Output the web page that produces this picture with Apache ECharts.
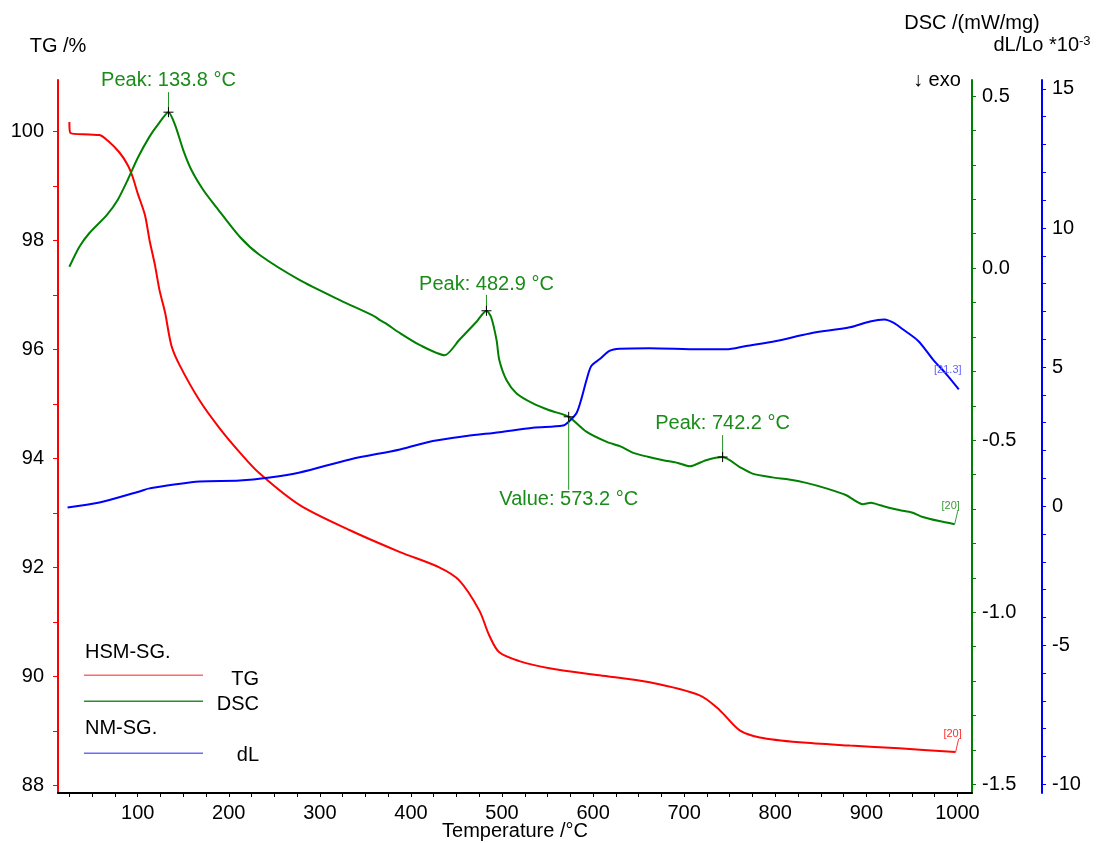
<!DOCTYPE html>
<html>
<head>
<meta charset="utf-8">
<script src="https://cdn.jsdelivr.net/npm/echarts@6/dist/echarts.min.js"></script>
<style>html,body{margin:0;padding:0;background:#fff;}#c{width:1098px;height:843px;}</style>
</head>
<body>
<div id="c"></div>
<script>
// ---------- data ----------
const tgT = [25, 26, 47, 58, 67, 80, 89, 94.5, 100, 108, 113, 119, 124, 130, 137, 146, 168, 190, 212, 234, 278, 333, 388, 431, 453, 475, 486, 497, 519, 552, 607, 662, 717, 739, 761, 783, 827, 882, 936, 998];
const tgV = [100.17, 99.97, 99.94, 99.93, 99.83, 99.61, 99.38, 99.16, 98.86, 98.46, 98.0, 97.54, 97.08, 96.68, 96.07, 95.71, 95.06, 94.55, 94.11, 93.72, 93.14, 92.68, 92.28, 92.0, 91.76, 91.21, 90.75, 90.44, 90.28, 90.15, 90.02, 89.89, 89.65, 89.38, 89.01, 88.88, 88.79, 88.73, 88.68, 88.61];

const dscT = [25, 36, 47, 66, 78, 89, 100, 113, 122, 133.8, 141, 150, 159, 172, 186, 212, 234, 278, 322, 360, 366, 372, 388, 410, 437, 453, 472, 482.9, 488, 494, 497, 505, 516, 534, 552, 573.2, 593, 615, 630, 644, 660, 677, 693, 706, 724, 742.2, 761, 775, 797, 815, 834, 856, 878, 896, 905, 915, 936, 950, 962, 980, 997];
const dscV = [0.004, 0.062, 0.102, 0.154, 0.198, 0.256, 0.320, 0.382, 0.416, 0.453, 0.416, 0.343, 0.285, 0.227, 0.178, 0.091, 0.038, -0.035, -0.093, -0.140, -0.151, -0.160, -0.189, -0.224, -0.253, -0.209, -0.156, -0.124, -0.142, -0.209, -0.267, -0.326, -0.364, -0.393, -0.413, -0.432, -0.476, -0.505, -0.518, -0.537, -0.548, -0.558, -0.566, -0.576, -0.558, -0.549, -0.578, -0.597, -0.608, -0.614, -0.624, -0.640, -0.660, -0.686, -0.682, -0.689, -0.703, -0.710, -0.723, -0.735, -0.744];

const dlT = [23, 58, 102, 113, 168, 212, 245, 278, 333, 388, 424, 461, 497, 534, 567, 574, 582, 587, 593, 598, 607, 618, 629, 662, 717, 746, 768, 801, 838, 882, 904, 920, 931, 940, 957, 973, 988, 1001.5];
const dlV = [-0.05, 0.13, 0.53, 0.64, 0.89, 0.92, 1.03, 1.21, 1.68, 2.04, 2.34, 2.52, 2.66, 2.82, 2.90, 3.06, 3.36, 3.84, 4.56, 5.04, 5.28, 5.58, 5.66, 5.68, 5.64, 5.64, 5.76, 5.94, 6.21, 6.43, 6.64, 6.71, 6.57, 6.36, 5.94, 5.28, 4.74, 4.20];

// ticks and labels
const xTicks = [25,50,75,100,125,150,175,200,225,250,275,300,325,350,375,400,425,450,475,500,525,550,575,600,625,650,675,700,725,750,775,800,825,850,875,900,925,950,975,1000];
const xLabels = [100,200,300,400,500,600,700,800,900,1000];
const tgTicks = [88,89,90,91,92,93,94,95,96,97,98,99,100];
const tgLabels = [88,90,92,94,96,98,100];
const dscTicks = [-1.5,-1.4,-1.3,-1.2,-1.1,-1.0,-0.9,-0.8,-0.7,-0.6,-0.5,-0.4,-0.3,-0.2,-0.1,0,0.1,0.2,0.3,0.4,0.5];
const dscLabels = [-1.5,-1.0,-0.5,0,0.5];
const dlTicks = [-10,-9,-8,-7,-6,-5,-4,-3,-2,-1,0,1,2,3,4,5,6,7,8,9,10,11,12,13,14,15];
const dlLabels = [-10,-5,0,5,10,15];

// annotations on DSC curve
const annT = [133.8, 482.9, 573.2, 742.2];
const annV = [0.453, -0.124, -0.432, -0.549];
const annText = ['Peak: 133.8 \u00B0C', 'Peak: 482.9 \u00B0C', 'Value: 573.2 \u00B0C', 'Peak: 742.2 \u00B0C'];
const endText = ['[20]', '[20]', '[21.3]'];

// ---------- chart ----------
const FONT = '"Liberation Sans", Arial, sans-serif';
const zip = (a, b) => a.map((v, i) => [v, b[i]]);
const annOff = [[-20, -32], [-16, -26], [73, 83], [-22, -34]];

const chart = echarts.init(document.getElementById('c'), null, {renderer: 'canvas'});

function annRender(params, api) {
  const p = api.coord([api.value(0), api.value(1)]);
  const o = annOff[params.dataIndex];
  return {
    type: 'group',
    children: [
      {type: 'line', shape: {x1: p[0], y1: p[1], x2: p[0], y2: p[1] + o[0]}, style: {stroke: '#1f8f1f', lineWidth: 1}},
      {type: 'line', shape: {x1: p[0] - 5, y1: p[1], x2: p[0] + 5, y2: p[1]}, style: {stroke: '#000', lineWidth: 1}},
      {type: 'line', shape: {x1: p[0], y1: p[1] - 5, x2: p[0], y2: p[1] + 5}, style: {stroke: '#000', lineWidth: 1}},
      {type: 'text', x: p[0], y: p[1] + o[1], style: {text: annText[params.dataIndex], fill: '#1a8c1a', font: '20px ' + FONT, align: 'center', verticalAlign: 'middle'}}
    ]
  };
}

function endRender(color, text, tdx, tdy, withLine) {
  return function (params, api) {
    const p = api.coord([api.value(0), api.value(1)]);
    const ch = [{type: 'text', x: p[0] + tdx, y: p[1] + tdy, style: {text: text, fill: color, font: '11px ' + FONT, align: 'center', verticalAlign: 'middle'}}];
    if (withLine) ch.push({type: 'line', shape: {x1: p[0] + 3, y1: p[1] - 13, x2: p[0], y2: p[1]}, style: {stroke: color, lineWidth: 1}});
    return {type: 'group', children: ch};
  };
}

const axisLabelBase = {color: '#000', fontSize: 20, fontFamily: FONT};

const option = {
  animation: false,
  backgroundColor: '#fff',
  grid: {left: 58, right: 126, top: 80, bottom: 50, containLabel: false, outerBoundsMode: 'none'},
  xAxis: {
    type: 'value', min: 12.5, max: 1016,
    name: 'Temperature /\u00B0C', nameLocation: 'middle', nameGap: 28, nameMoveOverlap: false,
    nameTextStyle: {color: '#000', fontSize: 20, fontFamily: FONT},
    axisLine: {show: true, onZero: false, lineStyle: {color: '#000', width: 2}},
    axisTick: {show: true, customValues: xTicks, length: 4, lineStyle: {color: '#000', width: 1}},
    axisLabel: Object.assign({customValues: xLabels, margin: 10, formatter: v => String(v)}, axisLabelBase),
    splitLine: {show: false}
  },
  yAxis: [
    {
      type: 'value', position: 'left', min: 87.86, max: 100.94,
      name: 'TG /%', nameLocation: 'end', nameGap: 24,
      nameTextStyle: {color: '#000', fontSize: 20, fontFamily: FONT, align: 'center'},
      axisLine: {show: true, onZero: false, lineStyle: {color: '#ff0000', width: 2}},
      axisTick: {show: true, customValues: tgTicks, length: 5, lineStyle: {color: '#ff0000', width: 1}},
      axisLabel: Object.assign({customValues: tgLabels, margin: 14, formatter: v => String(v)}, axisLabelBase),
      splitLine: {show: false}
    },
    {
      type: 'value', position: 'right', offset: 0, min: -1.525, max: 0.5465,
      name: 'DSC /(mW/mg)', nameLocation: 'end', nameGap: 47,
      nameTextStyle: {color: '#000', fontSize: 20, fontFamily: FONT, align: 'center'},
      axisLine: {show: true, onZero: false, lineStyle: {color: '#008000', width: 2}},
      axisTick: {show: true, customValues: dscTicks, length: 4, lineStyle: {color: '#008000', width: 1}},
      axisLabel: Object.assign({customValues: dscLabels, margin: 10, formatter: v => Number(v).toFixed(1)}, axisLabelBase),
      splitLine: {show: false}
    },
    {
      type: 'value', position: 'right', offset: 70, min: -10.31, max: 15.32,
      name: 'dL/Lo *10{sup|-3}', nameLocation: 'end', nameGap: 24,
      nameTextStyle: {color: '#000', fontSize: 20, fontFamily: FONT, align: 'center',
        rich: {sup: {fontSize: 13, verticalAlign: 'top', color: '#000', fontFamily: FONT, padding: [0, 0, 8, 0]}}},
      axisLine: {show: true, onZero: false, lineStyle: {color: '#0000ff', width: 2}},
      axisTick: {show: true, customValues: dlTicks, length: 4, lineStyle: {color: '#0000ff', width: 1}},
      axisLabel: Object.assign({customValues: dlLabels, margin: 10, formatter: v => String(v)}, axisLabelBase),
      splitLine: {show: false}
    }
  ],
  series: [
    {type: 'line', name: 'TG', yAxisIndex: 0, data: zip(tgT, tgV), showSymbol: false, smooth: 0.3,
      lineStyle: {color: '#ff0000', width: 2}, itemStyle: {color: '#ff0000'}, z: 2},
    {type: 'line', name: 'DSC', yAxisIndex: 1, data: zip(dscT, dscV), showSymbol: false, smooth: 0.25,
      lineStyle: {color: '#008000', width: 2}, itemStyle: {color: '#008000'}, z: 3},
    {type: 'line', name: 'dL', yAxisIndex: 2, data: zip(dlT, dlV), showSymbol: false, smooth: 0.3,
      lineStyle: {color: '#0000ff', width: 2}, itemStyle: {color: '#0000ff'}, z: 4},
    {type: 'custom', yAxisIndex: 1, data: zip(annT, annV), renderItem: annRender, clip: false, z: 10, silent: true},
    {type: 'custom', yAxisIndex: 0, data: [[tgT[tgT.length - 1], tgV[tgV.length - 1]]], renderItem: endRender('#ff3030', endText[0], -3, -18, true), clip: false, z: 10, silent: true},
    {type: 'custom', yAxisIndex: 1, data: [[dscT[dscT.length - 1], dscV[dscV.length - 1]]], renderItem: endRender('#3a9a3a', endText[1], -4, -18, true), clip: false, z: 10, silent: true},
    {type: 'custom', yAxisIndex: 2, data: [[dlT[dlT.length - 1], dlV[dlV.length - 1]]], renderItem: endRender('#6060ff', endText[2], -11, -19, false), clip: false, z: 10, silent: true}
  ],
  graphic: [
    {type: 'text', left: 913, top: 70, style: {text: '\u2193 exo', fill: '#000', font: '20px ' + FONT}},
    {type: 'text', left: 85, top: 642, style: {text: 'HSM-SG.', fill: '#000', font: '20px ' + FONT}},
    {type: 'rect', shape: {x: 84, y: 674.6, width: 119, height: 1.3}, style: {fill: '#ff6a6a'}},
    {type: 'text', right: 1098 - 259, top: 669, style: {text: 'TG', fill: '#000', font: '20px ' + FONT}},
    {type: 'rect', shape: {x: 84, y: 700.6, width: 119, height: 1.3}, style: {fill: '#2e8b2e'}},
    {type: 'text', right: 1098 - 259, top: 694, style: {text: 'DSC', fill: '#000', font: '20px ' + FONT}},
    {type: 'text', left: 85, top: 718, style: {text: 'NM-SG.', fill: '#000', font: '20px ' + FONT}},
    {type: 'rect', shape: {x: 84, y: 752.6, width: 119, height: 1.3}, style: {fill: '#6a6aff'}},
    {type: 'text', right: 1098 - 259, top: 745, style: {text: 'dL', fill: '#000', font: '20px ' + FONT}}
  ]
};
chart.setOption(option);
</script>
</body>
</html>
